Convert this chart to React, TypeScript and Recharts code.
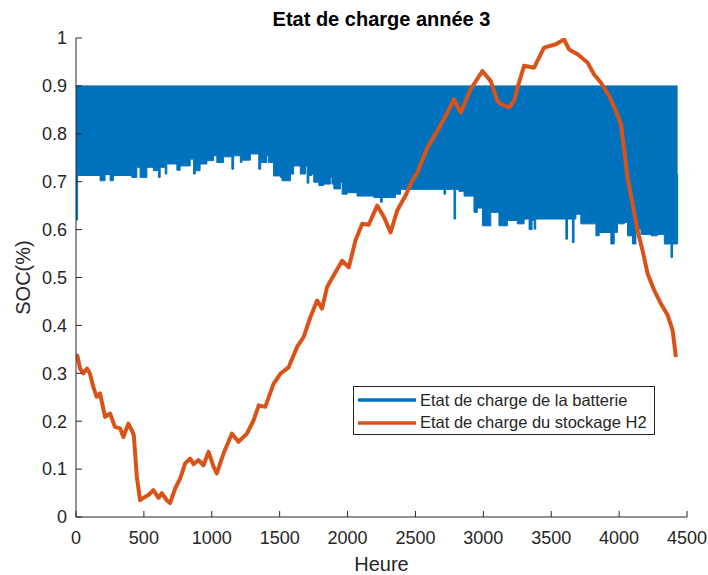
import React from "react";
import { Area, ComposedChart, Line, XAxis, YAxis } from "recharts";

// hour -> lower edge of the battery SOC band (upper edge stays at 0.9)
const BATTERY_LOW_EDGE: [number, number][] = [
  [0, 0.62], [12, 0.713], [177, 0.702], [214, 0.715], [251, 0.702], [275, 0.713],
  [411, 0.709], [448, 0.73], [472, 0.709], [522, 0.73], [570, 0.723], [608, 0.709],
  [620, 0.73], [657, 0.716], [669, 0.737], [743, 0.724], [767, 0.733], [841, 0.747],
  [866, 0.716], [878, 0.723], [914, 0.737], [964, 0.744], [1013, 0.754], [1037, 0.74],
  [1087, 0.752], [1148, 0.726], [1161, 0.754], [1210, 0.74], [1222, 0.745], [1284, 0.758],
  [1346, 0.726], [1360, 0.74], [1406, 0.754], [1419, 0.74], [1455, 0.712], [1505, 0.709],
  [1517, 0.702], [1579, 0.716], [1603, 0.733], [1652, 0.716], [1690, 0.733], [1702, 0.697],
  [1715, 0.713], [1738, 0.716], [1751, 0.699], [1788, 0.692], [1825, 0.695], [1873, 0.709],
  [1885, 0.695], [1899, 0.685], [1947, 0.699], [1960, 0.674], [1997, 0.677], [2070, 0.67],
  [2193, 0.667], [2243, 0.657], [2255, 0.667], [2353, 0.674], [2390, 0.684], [2710, 0.674],
  [2722, 0.684], [2784, 0.622], [2796, 0.684], [2820, 0.68], [2858, 0.67], [2931, 0.636],
  [2956, 0.645], [2993, 0.608], [3055, 0.636], [3115, 0.608], [3177, 0.619], [3250, 0.612],
  [3300, 0.622], [3337, 0.6], [3359, 0.619], [3374, 0.601], [3386, 0.622], [3608, 0.58],
  [3620, 0.622], [3656, 0.573], [3668, 0.622], [3682, 0.632], [3718, 0.612], [3829, 0.587],
  [3853, 0.594], [3939, 0.57], [3964, 0.594], [3988, 0.612], [4038, 0.615], [4062, 0.587],
  [4099, 0.57], [4124, 0.601], [4161, 0.59], [4235, 0.587], [4283, 0.59], [4333, 0.57],
  [4382, 0.542], [4394, 0.57], [4425, 0.57], [4431, 0.717],
];
const BATTERY_HIGH = 0.9;

// hour -> H2 storage SOC
const H2_SOC: [number, number][] = [
  [0, 0.325], [10, 0.337], [30, 0.31], [54, 0.3], [81, 0.31], [102, 0.3], [128, 0.271],
  [152, 0.251], [177, 0.258], [214, 0.209], [251, 0.216], [287, 0.188], [325, 0.185],
  [349, 0.167], [386, 0.195], [411, 0.181], [426, 0.17], [448, 0.084], [472, 0.035],
  [497, 0.04], [534, 0.046], [570, 0.056], [608, 0.04], [632, 0.05], [669, 0.035],
  [693, 0.029], [731, 0.06], [767, 0.08], [804, 0.112], [841, 0.122], [866, 0.11],
  [902, 0.119], [939, 0.108], [976, 0.136], [1013, 0.105], [1037, 0.091], [1087, 0.133],
  [1148, 0.174], [1197, 0.157], [1259, 0.174], [1308, 0.202], [1346, 0.233], [1394, 0.23],
  [1455, 0.278], [1505, 0.299], [1567, 0.313], [1628, 0.355], [1677, 0.376], [1726, 0.417],
  [1776, 0.452], [1812, 0.435], [1849, 0.48], [1911, 0.511], [1960, 0.535], [2009, 0.521],
  [2058, 0.577], [2108, 0.612], [2156, 0.61], [2218, 0.65], [2267, 0.627], [2317, 0.594],
  [2366, 0.64], [2427, 0.671], [2476, 0.702], [2514, 0.719], [2588, 0.771], [2661, 0.806],
  [2735, 0.844], [2784, 0.872], [2833, 0.844], [2906, 0.893], [2993, 0.931], [3055, 0.91],
  [3103, 0.869], [3128, 0.862], [3190, 0.855], [3227, 0.869], [3251, 0.896], [3300, 0.942],
  [3374, 0.938], [3447, 0.98], [3534, 0.987], [3595, 0.997], [3632, 0.976], [3694, 0.966],
  [3767, 0.949], [3816, 0.924], [3865, 0.907], [3927, 0.879], [3976, 0.848], [4014, 0.82],
  [4038, 0.765], [4062, 0.709], [4099, 0.654], [4136, 0.598], [4173, 0.556], [4210, 0.508],
  [4259, 0.473], [4308, 0.445], [4358, 0.421], [4394, 0.39], [4418, 0.334],
];

const X_TICKS = [0, 500, 1000, 1500, 2000, 2500, 3000, 3500, 4000, 4500];
const Y_TICKS = [0, 0.1, 0.2, 0.3, 0.4, 0.5, 0.6, 0.7, 0.8, 0.9, 1];
const Y_TICK_LABELS = ["0", "0.1", "0.2", "0.3", "0.4", "0.5", "0.6", "0.7", "0.8", "0.9", "1"];

const TITLE = "Etat de charge année 3";
const X_LABEL = "Heure";
const Y_LABEL = "SOC(%)";
const SERIES_NAMES = ["Etat de charge de la batterie", "Etat de charge du stockage H2"];

const BLUE = "#0072BD";
const ORANGE = "#D95319";
const INK = "#262626";
const FONT = "'Liberation Sans', Arial, Helvetica, sans-serif";

const W = 708;
const H = 575;
const M = { top: 38, right: 21, bottom: 0, left: 0 };
const Y_AXIS_W = 76;
const X_AXIS_H = 58;

const batteryData = BATTERY_LOW_EDGE.map(([h, low]) => ({ h, low, high: BATTERY_HIGH }));
const h2Data = H2_SOC.map(([h, v]) => ({ h, v }));

function XTick({ x, y, payload }: any) {
  return (
    <g>
      <line x1={x} x2={x} y1={y} y2={y - 6} stroke={INK} />
      <text x={x} y={y + 27} textAnchor="middle" fill={INK} fontSize={18} fontFamily={FONT}>
        {payload.value}
      </text>
    </g>
  );
}

function YTick({ x, y, payload, index }: any) {
  return (
    <g>
      <line x1={x} x2={x + 6} y1={y} y2={y} stroke={INK} />
      <text x={x - 9} y={y} dy="0.35em" textAnchor="end" fill={INK} fontSize={18} fontFamily={FONT}>
        {Y_TICK_LABELS[index] ?? payload.value}
      </text>
    </g>
  );
}

function LegendBox() {
  const colors = [BLUE, ORANGE];
  return (
    <div
      style={{
        position: "absolute",
        left: 353,
        top: 386,
        width: 302,
        height: 49,
        border: `1px solid ${INK}`,
        background: "#fff",
        boxSizing: "border-box",
        paddingTop: 2,
        fontFamily: FONT,
        fontSize: 16.5,
        color: INK,
      }}
    >
      {SERIES_NAMES.map((name, i) => (
        <div key={name} style={{ display: "flex", alignItems: "center", height: 22.5 }}>
          <svg width={66} height={8} style={{ flexShrink: 0 }}>
            <line x1={4} x2={62} y1={4} y2={4} stroke={colors[i]} strokeWidth={3.5} />
          </svg>
          <span style={{ whiteSpace: "nowrap" }}>{name}</span>
        </div>
      ))}
    </div>
  );
}

export default function App() {
  const plotLeft = M.left + Y_AXIS_W;
  const plotRight = W - M.right;
  const plotTop = M.top;
  const plotBottom = H - M.bottom - X_AXIS_H;
  return (
    <div style={{ position: "absolute", left: 0, top: 0, width: W, height: H, background: "#fff", overflow: "hidden" }}>
      <div
        style={{
          position: "absolute",
          left: plotLeft,
          width: plotRight - plotLeft,
          top: 8,
          textAlign: "center",
          fontFamily: FONT,
          fontWeight: "bold",
          fontSize: 20,
          color: "#000",
        }}
      >
        {TITLE}
      </div>
      <ComposedChart width={W} height={H} margin={M}>
        <XAxis
          dataKey="h"
          type="number"
          domain={[0, 4500]}
          ticks={X_TICKS}
          interval={0}
          height={X_AXIS_H}
          tickSize={0}
          tickMargin={0}
          tickLine={false}
          tick={<XTick />}
          axisLine={{ stroke: INK }}
          allowDataOverflow
        />
        <YAxis
          type="number"
          domain={[0, 1]}
          ticks={Y_TICKS}
          interval={0}
          width={Y_AXIS_W}
          tickSize={0}
          tickMargin={0}
          tickLine={false}
          tick={<YTick />}
          axisLine={{ stroke: INK }}
          allowDataOverflow
        />
        <Area
          data={batteryData}
          dataKey={(d: any) => [d.low, d.high]}
          type="stepAfter"
          stroke={BLUE}
          strokeWidth={1}
          fill={BLUE}
          fillOpacity={1}
          dot={false}
          activeDot={false}
          isAnimationActive={false}
        />
        <Line
          data={h2Data}
          dataKey="v"
          type="linear"
          stroke={ORANGE}
          strokeWidth={4}
          strokeLinejoin="round"
          dot={false}
          activeDot={false}
          isAnimationActive={false}
        />
        <text
          x={(plotLeft + plotRight) / 2}
          y={571}
          textAnchor="middle"
          fill={INK}
          fontSize={20}
          fontFamily={FONT}
        >
          {X_LABEL}
        </text>
        <text
          x={30}
          y={(plotTop + plotBottom) / 2}
          textAnchor="middle"
          fill={INK}
          fontSize={20}
          fontFamily={FONT}
          transform={`rotate(-90 30 ${(plotTop + plotBottom) / 2})`}
        >
          {Y_LABEL}
        </text>
      </ComposedChart>
      <LegendBox />
    </div>
  );
}
